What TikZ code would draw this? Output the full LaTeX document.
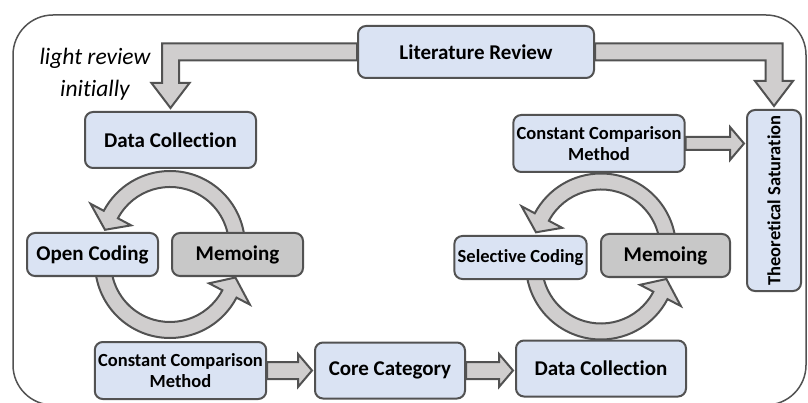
\documentclass[tikz,border=0pt]{standalone}
\usepackage{fontspec}
\setmainfont[Ligatures=NoCommon]{Carlito}
\usetikzlibrary{calc,backgrounds}

\definecolor{boxblue}{RGB}{218,227,243}
\definecolor{memogrey}{RGB}{200,200,200}
\definecolor{arrowgrey}{RGB}{208,206,206}
\definecolor{edgegrey}{RGB}{82,82,82}

\tikzstyle{stage} = [rectangle, rounded corners=8pt,
minimum width=171pt,
minimum height=56pt,
text centered,
draw=edgegrey, line width=2pt,
fill=boxblue,
font=\fontsize{21}{25}\selectfont\bfseries]
\tikzstyle{coding} = [stage,
minimum width=131pt,
minimum height=43pt]
\tikzstyle{memo} = [coding, fill=memogrey]
\tikzstyle{method} = [stage, align=center,
minimum height=57pt,
font=\fontsize{18.5}{21}\selectfont\bfseries]
\tikzstyle{fat} = [draw=edgegrey, line width=2pt, fill=arrowgrey]

% straight block arrow: from node, to anchor, half shaft width
\newcommand{\hfat}[3]{%
\draw [fat] ($(#1.east)+(0,#3)$) -- ($(#2 |- #1.east)+(-16,#3)$)
  -- ($(#2 |- #1.east)+(-16,16.5)$) -- ($(#2 |- #1.east)+(-2,0)$)
  -- ($(#2 |- #1.east)+(-16,-16.5)$) -- ($(#2 |- #1.east)+(-16,-#3)$)
  -- ($(#1.east)+(0,-#3)$) -- cycle;}
% curved block arrow: centre, start angle, head base angle, tip angle
\newcommand{\cyclearrow}[4]{%
\draw [fat] ($(#1)+(#2:75)$) arc [start angle=#2, end angle=#3, radius=75]
  -- ($(#1)+(#3:90)$) -- ($(#1)+(#4:67)$) -- ($(#1)+(#3:44)$)
  -- ($(#1)+(#3:59)$) arc [start angle=#3, end angle=#2, radius=59] -- cycle;}

\begin{document}
\begin{tikzpicture}[x=1pt, y=1pt, node distance=145pt]
\useasboundingbox (0,0) rectangle (808,-403);
\clip (0,0) rectangle (808,-403);
\draw [edgegrey, line width=1.5pt, rounded corners=40pt] (13,-15) rectangle (806,-405);

\node (lit) [stage, minimum width=236pt, minimum height=52pt] at (476,-52) {Literature Review};
\node (note) [font=\fontsize{23.5}{32}\selectfont\itshape, align=center] at (95,-74) {light review\\initially};
\node (dc1) [stage] at (170.5,-140) {Data Collection};
\node (open) [coding] at (92.5,-254.5) {Open Coding};
\node (memo1) [memo, right of=open] {Memoing};
\node (ccm1) [method] at (180.5,-370.5) {Constant Comparison\\Method};
\node (core) [stage, minimum width=150pt, right of=ccm1, xshift=64.5pt] {Core Category};
\node (dc2) [stage, minimum width=170pt, right of=core, xshift=66pt, yshift=2pt] {Data Collection};
\node (sel) [coding, font=\fontsize{18.5}{21}\selectfont\bfseries] at (520.5,-257.5) {Selective Coding};
\node (memo2) [memo, minimum width=129pt, right of=sel, yshift=2pt] {Memoing};
\node (ccm2) [method, minimum width=170pt] at (599,-143.5) {Constant Comparison\\Method};
\node (theo) [stage, rotate=90, minimum width=181pt, minimum height=54pt,
  font=\fontsize{18.5}{21}\selectfont\bfseries] at (774,-200.5) {Theoretical Saturation};

\begin{scope}[on background layer]
\draw [fat] ($(lit.west)+(0,8.5)$) -| ($(dc1.north)+(-8.5,28)$) -- ($(dc1.north)+(-19,28)$)
  -- ($(dc1.north)+(0,3)$) -- ($(dc1.north)+(19,28)$) -- ($(dc1.north)+(8.5,28)$)
  |- ($(lit.west)+(0,-8.5)$) -- cycle;
\draw [fat] ($(lit.east)+(0,8.5)$) -| ($(theo.east)+(8.5,28)$) -- ($(theo.east)+(19,28)$)
  -- ($(theo.east)+(0,3)$) -- ($(theo.east)+(-19,28)$) -- ($(theo.east)+(-8.5,28)$)
  |- ($(lit.east)+(0,-8.5)$) -- cycle;
\hfat{ccm2}{theo.north}{6.5}
\hfat{ccm1}{core.west}{8.5}
\hfat{core}{dc2.west}{8.5}

\coordinate (up1) at ($(open)!.5!(memo1)+(5,8.5)$);
\coordinate (low1) at ($(open)!.5!(memo1)+(5,-8.5)$);
\coordinate (up2) at ($(sel)!.5!(memo2)+(8,8)$);
\coordinate (low2) at ($(sel)!.5!(memo2)+(8,-8)$);
\cyclearrow{up1}{0}{152}{166}
\cyclearrow{low1}{180}{332.5}{347.5}
\cyclearrow{up2}{0}{152}{166}
\cyclearrow{low2}{180}{332.5}{347.5}
\end{scope}
\end{tikzpicture}
\end{document}
